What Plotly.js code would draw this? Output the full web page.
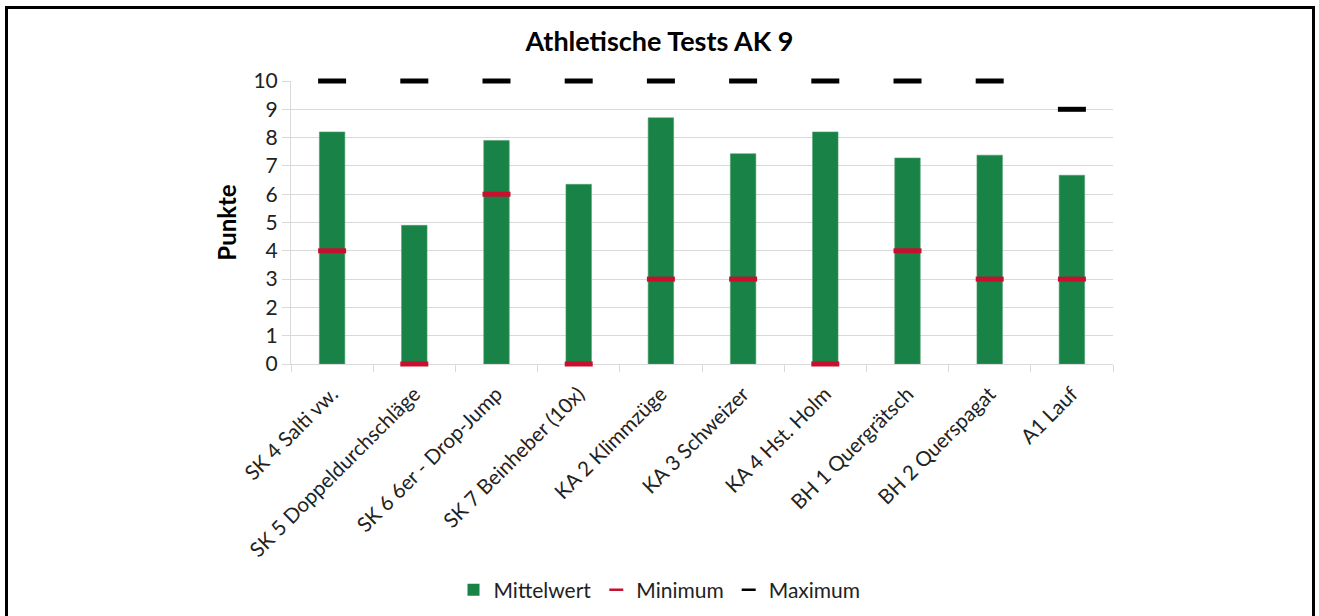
<!DOCTYPE html>
<html>
<head>
<meta charset="utf-8">
<script src="https://cdn.plot.ly/plotly-3.0.1.min.js"></script>
<style>
html,body{margin:0;padding:0;background:#fff;overflow:hidden;}
#wrap{position:relative;width:1319px;height:616px;}
#chart{width:1319px;height:616px;}
#frame{position:absolute;left:5px;top:6px;width:1304px;height:640px;border:3px solid #000;pointer-events:none;}
</style>
</head>
<body>
<div id="wrap"><div id="chart"></div><div id="frame"></div></div>
<script>
const categories = ["SK 4 Salti vw.", "SK 5 Doppeldurchschläge", "SK 6 6er - Drop-Jump", "SK 7 Beinheber (10x)", "KA 2 Klimmzüge", "KA 3 Schweizer", "KA 4 Hst. Holm", "BH 1 Quergrätsch", "BH 2 Querspagat", "A1 Lauf"];
const mittelwert = [8.2, 4.9, 7.9, 6.35, 8.7, 7.43, 8.2, 7.28, 7.38, 6.67];
const minimum = [4, 0, 6, 0, 3, 3, 0, 4, 3, 3];
const maximum = [10, 10, 10, 10, 10, 10, 10, 10, 10, 9];
const yTicks = [0,1,2,3,4,5,6,7,8,9,10];

const FONT = "Lato, 'Open Sans', sans-serif";
const GREEN = '#198246', RED = '#c8102e', BLACK = '#000';
const traces = [
  {type:'bar', name:'Mittelwert', x:categories, y:mittelwert, width:0.31, showlegend:false,
   marker:{color:GREEN, line:{color:'#4fa06c', width:0.6}}},
  {type:'scatter', mode:'markers', name:'Minimum', x:categories, y:minimum, cliponaxis:false, showlegend:false,
   marker:{symbol:'line-ew', size:20, color:RED, line:{color:RED, width:5}}},
  {type:'scatter', mode:'markers', name:'Maximum', x:categories, y:maximum, cliponaxis:false, showlegend:false,
   marker:{symbol:'line-ew', size:20, color:BLACK, line:{color:BLACK, width:5}}},
  // legend entries
  {type:'bar', name:'Mittelwert', x:[categories[0]], y:[null], marker:{color:GREEN}},
  {type:'scatter', mode:'markers', name:'Minimum', x:[categories[0]], y:[null], marker:{symbol:'line-ew', size:10, color:RED, line:{color:RED, width:2.5}}},
  {type:'scatter', mode:'markers', name:'Maximum', x:[categories[0]], y:[null], marker:{symbol:'line-ew', size:10, color:BLACK, line:{color:BLACK, width:2.5}}}
];
const layout = {
  width:1319, height:616,
  margin:{l:291, r:206, t:81, b:252},
  paper_bgcolor:'#fff', plot_bgcolor:'#fff',
  font:{family:FONT, color:'#222', size:18},
  barmode:'overlay',
  title:{text:'<b>Athletische Tests AK 9</b>', x:0.5, xref:'container', y:0.932, yref:'container', yanchor:'middle', font:{size:27, color:'#000', family:FONT}},
  showlegend:true,
  legend:{orientation:'h', xref:'container', x:0.5, xanchor:'center', yref:'container', y:0.042, yanchor:'middle', font:{size:21, color:'#222'}, itemwidth:30, tracegroupgap:0},
  xaxis:{type:'category', range:[-0.5, 9.5], tickangle:-45, tickson:'boundaries', ticks:'outside', ticklen:7, tickcolor:'#d9d9d9', showgrid:false, showline:true, linecolor:'#d9d9d9', linewidth:1, layer:'below traces', ticklabelstandoff:9, tickfont:{size:20.5, color:'#222'}, fixedrange:true},
  yaxis:{range:[0,10], tickvals:yTicks, ticktext:yTicks.map(String), showgrid:true, gridcolor:'#d9d9d9', gridwidth:1, zeroline:false, showline:true, linecolor:'#d9d9d9', layer:'below traces', ticks:'outside', ticklen:8, tickcolor:'#d9d9d9', tickfont:{size:21, color:'#222'},
         title:{text:'<b>Punkte</b>', font:{size:24, color:'#000'}, standoff:10}, fixedrange:true}
};
Plotly.newPlot('chart', traces, layout, {displayModeBar:false, staticPlot:true});
</script>
</body>
</html>
